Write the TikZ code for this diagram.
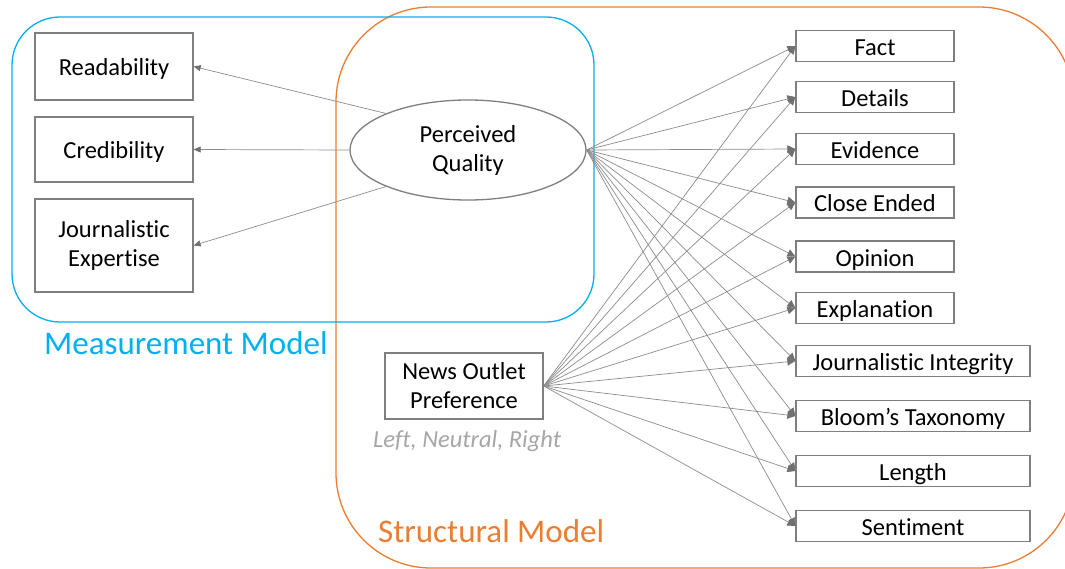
\documentclass[tikz,border=0pt]{standalone}
\usepackage{fontspec}
\setmainfont{Carlito}[Ligatures=NoCommon]
\usetikzlibrary{arrows.meta,shapes.geometric}
\definecolor{mblue}{HTML}{00B0F0}
\definecolor{sorange}{HTML}{ED7D31}
\definecolor{boxgray}{HTML}{7F7F7F}
\definecolor{arrgray}{HTML}{8C8C8C}
\definecolor{tipgray}{HTML}{707070}
\definecolor{subgray}{HTML}{A6A6A6}
\begin{document}
\begin{tikzpicture}[x=1pt,y=-1pt,
  txt/.style={font=\fontsize{24.5}{29}\selectfont, text=black, align=center},
  boxnode/.style={txt, draw=boxgray, line width=1.3pt, fill=white, inner sep=0pt, minimum width=158pt},
  oneline/.style={text height=19pt, text depth=0pt},
  longbox/.style={boxnode, minimum width=234pt},
  rbox/.style={boxnode, oneline, minimum height=31pt},
  lrbox/.style={longbox, oneline, minimum height=31pt},
  conn/.style={draw=arrgray, line width=0.7pt, -{Triangle[length=8pt,width=7.5pt,color=tipgray]}},
  lconn/.style={draw=arrgray, line width=0.7pt, -{Triangle[length=7pt,width=6pt,color=tipgray]}},
  biglabel/.style={font=\fontsize{33}{40}\selectfont, inner sep=0pt, anchor=base west}
]
\useasboundingbox (0,0) rectangle (1065,569);
\fill[white] (0,0) rectangle (1065,569);
% model frames
\draw[sorange, line width=1.3pt, rounded corners=95pt] (336,7) rectangle (1074,568);
\draw[mblue, line width=1.3pt, rounded corners=48pt] (12,17) rectangle (594,322);
% labels
\node[biglabel, text=mblue] (mlab) at (44,354) {Measurement Model};
\node[biglabel, text=sorange] (slab) at (378,542) {Structural Model};
% left boxes
\node[boxnode, oneline, minimum height=67pt] (read) at (114,66.5) {Readability};
\node[boxnode, oneline, minimum height=65pt] (cred) at (114,149.5) {Credibility};
\node[boxnode, minimum height=93pt] (je) at (114,245.5) {Journalistic\\Expertise};
% latent
\node[ellipse, txt, draw=boxgray, line width=1.3pt, fill=white, inner sep=0pt,
  minimum width=236pt, minimum height=100pt] (pq) at (468,150) {Perceived\\Quality};
% news outlet
\node[boxnode, minimum height=66pt] (nop) at (464,386) {News Outlet\\Preference};
\node[font=\fontsize{24.5}{29}\selectfont\itshape, text=subgray, inner sep=0pt, anchor=base] (lnr) at (467,447) {Left, Neutral, Right};
% right boxes
\node[rbox] (fact) at (875,46) {Fact};
\node[rbox] (det) at (875,97) {Details};
\node[rbox] (evi) at (875,149) {Evidence};
\node[rbox] (clo) at (875,202.5) {Close Ended};
\node[rbox] (opi) at (875,256.5) {Opinion};
\node[rbox] (exp) at (875,308) {Explanation};
\node[lrbox] (ji) at (913,361) {Journalistic Integrity};
\node[lrbox] (bloom) at (913,416) {Bloom’s Taxonomy};
\node[lrbox] (len) at (913,471) {Length};
\node[lrbox] (sen) at (913,526) {Sentiment};
% measurement arrows
\draw[lconn] (pq.156) -- (read.east);
\draw[lconn] (pq.west) -- (cred.east);
\draw[lconn] (pq.204) -- (je.east);
% structural arrows
\foreach \t in {fact,det,evi,clo,opi,exp,ji,bloom,len,sen}{
  \draw[conn] (pq.east) -- (\t.west);
  \draw[conn] (nop.east) -- (\t.west);
}
\end{tikzpicture}
\end{document}
